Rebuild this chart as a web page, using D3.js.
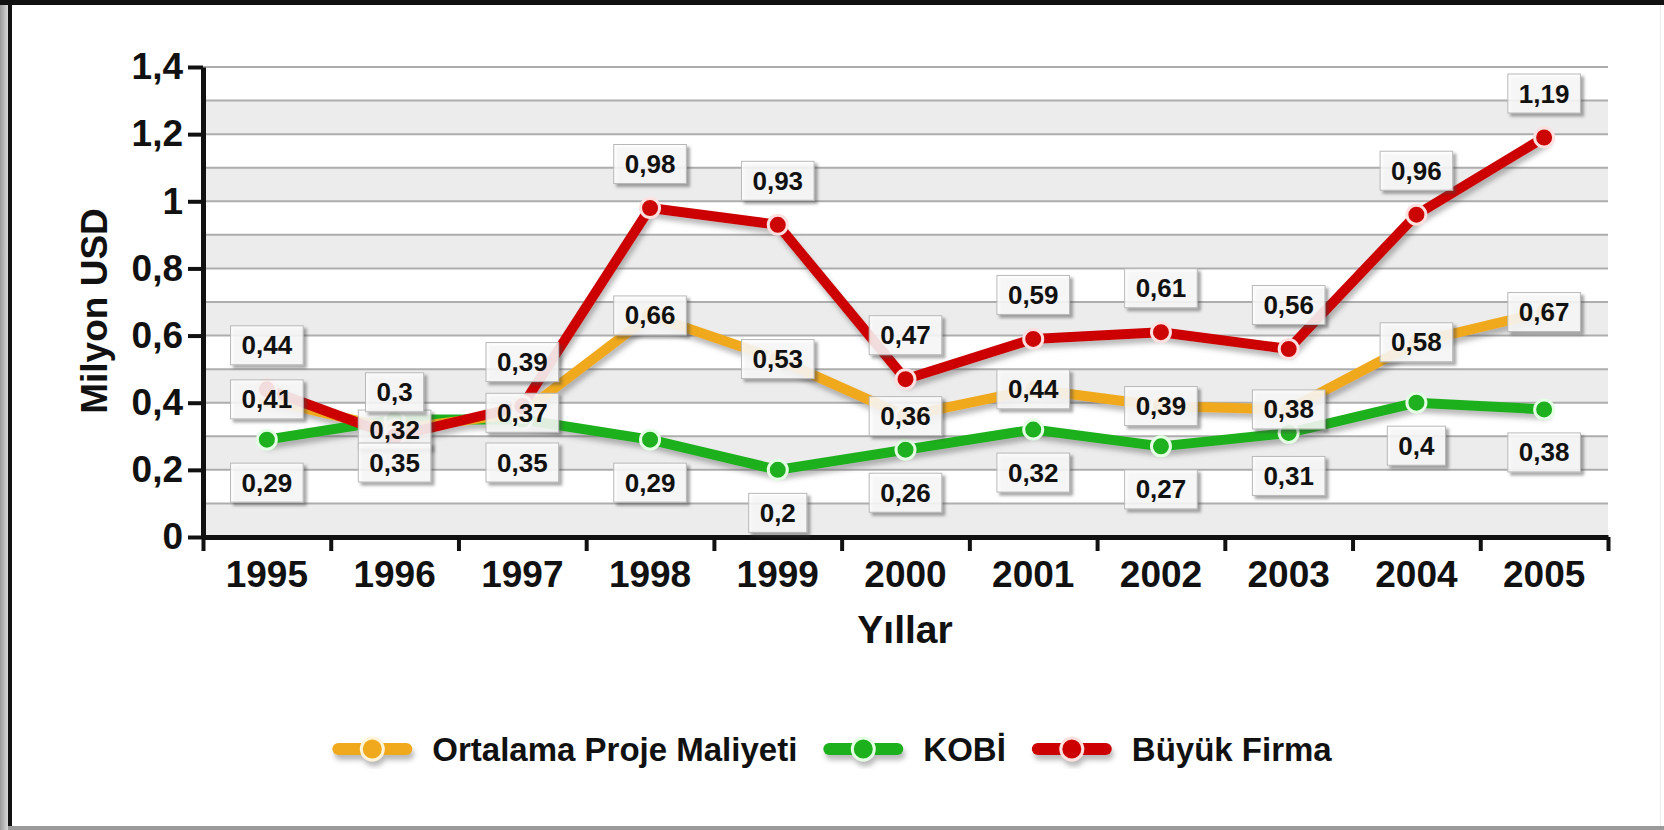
<!DOCTYPE html>
<html>
<head>
<meta charset="utf-8">
<script src="https://cdn.jsdelivr.net/npm/d3@7"></script>
<style>
  html, body { margin: 0; padding: 0; background: #fff; }
  svg { display: block; font-family: "Liberation Sans", Arial, sans-serif; font-weight: bold; }
</style>
</head>
<body>
<svg id="chart" width="1664" height="830"></svg>
<script>
// ---- data ----
const years = ["1995","1996","1997","1998","1999","2000","2001","2002","2003","2004","2005"];
const ortalama = [0.41,0.32,0.37,0.66,0.53,0.36,0.44,0.39,0.38,0.58,0.67];
const kobi     = [0.29,0.35,0.35,0.29,0.20,0.26,0.32,0.27,0.31,0.40,0.38];
const buyuk    = [0.44,0.30,0.39,0.98,0.93,0.47,0.59,0.61,0.56,0.96,1.19];
const yTicks   = [0,0.2,0.4,0.6,0.8,1,1.2,1.4];
const seriesNames = ["Ortalama Proje Maliyeti","KOBİ","Büyük Firma"];
const yTitle = "Milyon USD";
const xTitle = "Yıllar";

const colors = ["#f0a91e","#1fb01f","#cc0505"];
const markerStroke = ["#fff3d8","#e4ffe4","#ffe0e0"];

const svg = d3.select("#chart");
const W = 1664, H = 830;
const pLeft = 203, pRight = 1608, pTop = 67, pBottom = 537;

const defs = svg.append("defs");
const sh = defs.append("filter").attr("id","shadow").attr("x","-20%").attr("y","-20%").attr("width","140%").attr("height","160%");
sh.append("feDropShadow").attr("dx",2).attr("dy",5).attr("stdDeviation",2.5).attr("flood-color","#555").attr("flood-opacity",0.4);
const sh2 = defs.append("filter").attr("id","boxshadow").attr("x","-20%").attr("y","-20%").attr("width","150%").attr("height","150%");
sh2.append("feDropShadow").attr("dx",3).attr("dy",3).attr("stdDeviation",1.5).attr("flood-color","#444").attr("flood-opacity",0.55);
const lg = defs.append("linearGradient").attr("id","leftgrad").attr("x1","0").attr("x2","1");
lg.append("stop").attr("offset","0").attr("stop-color","#9a9a9a");
lg.append("stop").attr("offset","1").attr("stop-color","#d8d8d8");

// ---- frame ----
svg.append("rect").attr("x",0).attr("y",0).attr("width",W).attr("height",H).attr("fill","#fff");
svg.append("rect").attr("x",0).attr("y",0).attr("width",8).attr("height",H).attr("fill","url(#leftgrad)");
svg.append("rect").attr("x",8).attr("y",0).attr("width",4).attr("height",H).attr("fill","#111");
svg.append("rect").attr("x",0).attr("y",0).attr("width",W).attr("height",5).attr("fill","#111");
svg.append("rect").attr("x",8).attr("y",H-4).attr("width",W-8).attr("height",4).attr("fill","#9a9a9a");
svg.append("rect").attr("x",W-4).attr("y",5).attr("width",1).attr("height",H-9).attr("fill","#ececec");

// ---- scales ----
const y = d3.scaleLinear().domain([0,1.4]).range([pBottom, pTop]);
const xBand = d3.scaleBand().domain(years).range([pLeft, pRight]);
const xEdge = d3.scaleLinear().domain([0, years.length]).range([pLeft, pRight]);
const xc = d => xBand(d) + xBand.bandwidth()/2;
const fmt = v => d3.format(".2~f")(v).replace(".", ",");

// ---- bands & grid ----
const g = svg.append("g");
const bandStarts = d3.range(0, 7).map(i => i*0.2);
g.selectAll("rect.band").data(bandStarts).enter().append("rect")
  .attr("x", pLeft).attr("width", pRight-pLeft)
  .attr("y", d => y(d+0.1)).attr("height", d => y(d) - y(d+0.1))
  .attr("fill", "#ececec");
const gridVals = d3.range(1, 15).map(i => i/10);
g.selectAll("line.grid").data(gridVals).enter().append("line")
  .attr("x1", pLeft).attr("x2", pRight)
  .attr("y1", d => y(d)).attr("y2", d => y(d))
  .attr("stroke", "#adadad").attr("stroke-width", 2);

// ---- axes ----
const yAxis = svg.append("g").attr("transform", `translate(${pLeft},0)`)
  .call(d3.axisLeft(y).tickValues(yTicks).tickFormat(fmt).tickSize(15).tickSizeOuter(0).tickPadding(5));
yAxis.select(".domain").attr("stroke","#111").attr("stroke-width",5);
yAxis.selectAll(".tick line").attr("stroke","#111").attr("stroke-width",4);
yAxis.selectAll(".tick text").attr("font-size",37).attr("font-weight","bold").attr("fill","#111")
  .attr("font-family","'Liberation Sans', Arial, sans-serif");

const xTickAxis = svg.append("g").attr("transform", `translate(0,${pBottom})`)
  .call(d3.axisBottom(xEdge).tickValues(d3.range(0, years.length+1)).tickFormat("").tickSize(14).tickSizeOuter(0));
xTickAxis.select(".domain").attr("stroke","#111").attr("stroke-width",5);
xTickAxis.selectAll(".tick line").attr("stroke","#111").attr("stroke-width",4);

const xLab = svg.append("g").attr("transform", `translate(0,${pBottom})`)
  .call(d3.axisBottom(xBand).tickSize(0).tickPadding(24));
xLab.select(".domain").remove();
xLab.selectAll(".tick text").attr("font-size",37).attr("font-weight","bold").attr("fill","#111")
  .attr("font-family","'Liberation Sans', Arial, sans-serif");

// axis titles
svg.append("text").attr("x", 905).attr("y", 643).attr("text-anchor","middle")
  .attr("font-size",39).attr("fill","#111").text(xTitle);
svg.append("text").attr("transform","translate(107,311) rotate(-90)").attr("text-anchor","middle")
  .attr("font-size",37).attr("fill","#111").text(yTitle);

// ---- lines ----
const seriesData = [ortalama, kobi, buyuk];
const line = d3.line().x((d,i) => xc(years[i])).y(d => y(d));
const order = [1, 0, 2]; // draw green, orange, red
const linesG = svg.append("g").attr("filter","url(#shadow)");
order.forEach(s => {
  linesG.append("path").datum(seriesData[s]).attr("d", line)
    .attr("fill","none").attr("stroke", colors[s]).attr("stroke-width", 10)
    .attr("stroke-linejoin","round").attr("stroke-linecap","round");
});
const markG = svg.append("g");
order.forEach(s => {
  markG.selectAll(null).data(seriesData[s]).enter().append("circle")
    .attr("cx", (d,i) => xc(years[i])).attr("cy", d => y(d)).attr("r", 9.5)
    .attr("fill", colors[s]).attr("stroke", markerStroke[s]).attr("stroke-width", 3);
});

// ---- data labels ----
const offsets = [0, 43, -44];
const labG = svg.append("g");
[0,1,2].forEach(s => {
  seriesData[s].forEach((v,i) => {
    const cx = xc(years[i]), cy = y(v) + offsets[s];
    const lab = labG.append("g");
    const r = lab.append("rect").attr("fill","#fff").attr("fill-opacity",0.82)
      .attr("stroke","#b8b8b8").attr("stroke-width",1).attr("filter","url(#boxshadow)");
    const t = lab.append("text").attr("x", cx).attr("y", cy + 9).attr("text-anchor","middle")
      .attr("font-size",26).attr("fill","#111").text(fmt(v));
    const w = t.node().getComputedTextLength() + 22, h = 39;
    r.attr("x", cx - w/2).attr("y", cy - h/2).attr("width", w).attr("height", h);
  });
});

// ---- legend ----
const legG = svg.append("g");
const items = [];
let cursor = 0;
seriesNames.forEach((name, s) => {
  const it = legG.append("g");
  const sym = it.append("g").attr("filter","url(#shadow)");
  sym.append("line").attr("x1", 6).attr("x2", 74).attr("y1", 0).attr("y2", 0)
    .attr("stroke", colors[s]).attr("stroke-width", 12).attr("stroke-linecap","round");
  sym.append("circle").attr("cx", 40).attr("cy", 0).attr("r", 11)
    .attr("fill", colors[s]).attr("stroke", markerStroke[s]).attr("stroke-width", 3);
  const t = it.append("text").attr("x", 100).attr("y", 12).attr("font-size", 33).attr("fill","#111").text(name);
  const tw = t.node().getComputedTextLength();
  items.push({it, x: cursor});
  cursor += 100 + tw + 26;
});
const total = cursor - 26;
const startX = 832 - total/2;
items.forEach(o => o.it.attr("transform", `translate(${startX + o.x},749)`));
</script>
</body>
</html>
